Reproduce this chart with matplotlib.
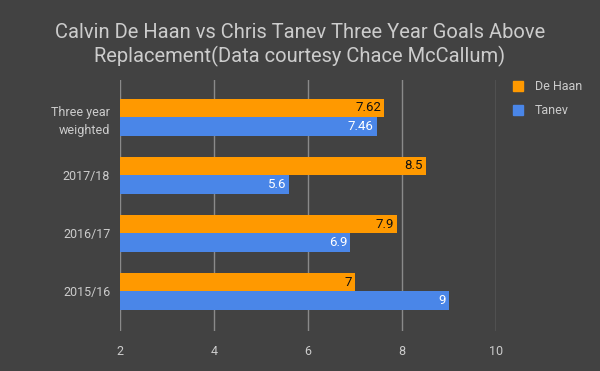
import numpy as np
import matplotlib.pyplot as plt

plt.rcParams['font.family'] = ['Roboto', 'DejaVu Sans']

categories = ['2015/16', '2016/17', '2017/18', 'Three year\nweighted']
de_haan = [7, 7.9, 8.5, 7.62]
tanev = [9, 6.9, 5.6, 7.46]
de_haan_labels = ['7', '7.9', '8.5', '7.62']
tanev_labels = ['9', '6.9', '5.6', '7.46']

bg = '#424242'
orange = '#ff9900'
blue = '#4a86e8'
txt = '#cccccc'

fig = plt.figure(figsize=(6, 3.71), dpi=100)
fig.patch.set_facecolor(bg)
# chart area: x 120..496 px, y 80..331 px
ax = fig.add_axes([120/600, 1 - 331/371, 376/600, 251/371])
ax.set_facecolor(bg)

y = np.arange(len(categories))
h = 0.32
base = 2
ax.barh(y + h/2, np.array(de_haan) - base, left=base, height=h, color=orange, zorder=3)
ax.barh(y - h/2, np.array(tanev) - base, left=base, height=h, color=blue, zorder=3)

for i in range(len(categories)):
    ax.text(de_haan[i] - 0.06, y[i] + h/2, de_haan_labels[i], ha='right', va='center',
            fontsize=9.5, color='#111111', zorder=4)
    ax.text(tanev[i] - 0.06, y[i] - h/2, tanev_labels[i], ha='right', va='center',
            fontsize=9.5, color='white', zorder=4)

ax.set_xlim(2, 10)
ax.set_ylim(-0.68, 3.64)
ax.set_xticks([2, 4, 6, 8, 10])
ax.set_yticks(y)
ax.set_yticklabels(categories, color=txt, fontsize=9, linespacing=1.55)
ax.tick_params(axis='x', colors=txt, labelsize=9, length=0, pad=10)
ax.tick_params(axis='y', length=0, pad=7)
ax.grid(axis='x', color='#8a8a8a', linewidth=1, zorder=0)
for s in ax.spines.values():
    s.set_visible(False)

fig.text(0.5, 1 - 33/371, 'Calvin De Haan vs Chris Tanev Three Year Goals Above',
         ha='center', va='center', color=txt, fontsize=14.5)
fig.text(0.5, 1 - 56/371, 'Replacement(Data courtesy Chace McCallum)',
         ha='center', va='center', color=txt, fontsize=14.5)

# legend
for yy, col, lab in [(86, orange, 'De Haan'), (110, blue, 'Tanev')]:
    fig.patches.append(plt.Rectangle((513/600, 1 - (yy + 5)/371), 10/600, 10/371,
                                     transform=fig.transFigure, color=col))
    fig.text(535/600, 1 - yy/371, lab, ha='left', va='center', color=txt, fontsize=9)

fig.savefig('out.png', dpi=100, facecolor=bg)
